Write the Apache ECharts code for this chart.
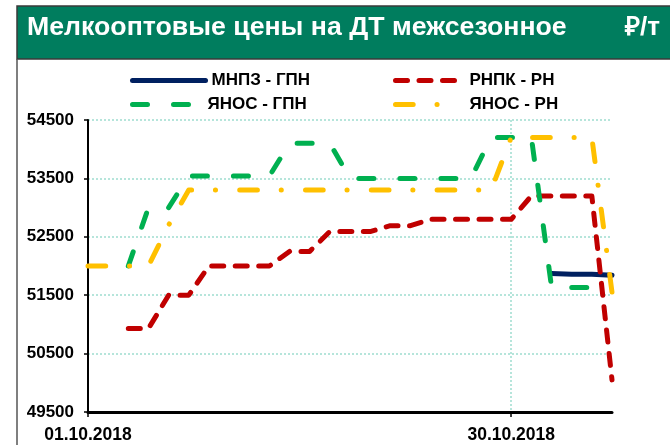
<!DOCTYPE html>
<html>
<head>
<meta charset="utf-8">
<script src="https://cdn.jsdelivr.net/npm/echarts@6/dist/echarts.min.js"></script>
<style>
  html, body { margin: 0; padding: 0; background: #fff; }
  #chart { width: 670px; height: 445px; }
</style>
</head>
<body>
<div id="chart"></div>
<script>
// trading days on the category axis
const dates = [
  '01.10.2018', '02.10.2018', '03.10.2018', '04.10.2018', '05.10.2018',
  '08.10.2018', '09.10.2018', '10.10.2018', '11.10.2018', '12.10.2018',
  '15.10.2018', '16.10.2018', '17.10.2018', '18.10.2018', '19.10.2018',
  '22.10.2018', '23.10.2018', '24.10.2018', '25.10.2018', '26.10.2018',
  '29.10.2018', '30.10.2018', '31.10.2018', '01.11.2018', '02.11.2018',
  '06.11.2018', '07.11.2018'
];
const xTickLabels = ['01.10.2018', '30.10.2018'];

const mnpzGpn = [
  null, null, null, null, null, null, null, null, null, null,
  null, null, null, null, null, null, null, null, null, null,
  null, null, null, 51870, 51860, 51860, 51840
];
const rnpkRn = [
  null, null, 50930, 50930, 51500, 51500, 52000, 52000, 52000, 52000,
  52250, 52250, 52590, 52590, 52590, 52690, 52690, 52800, 52800, 52800,
  52800, 52800, 53200, 53200, 53200, 53200, 50050
];
const yanosGpn = [
  null, null, 52000, 53000, 53000, 53540, 53540, 53540, 53540, 53540,
  54100, 54100, 54100, 53500, 53500, 53500, 53500, 53500, 53500, 53500,
  54200, 54200, 54200, 51640, 51630, 51630, 51620
];
const yanosRn = [
  52000, 52000, 52000, 52000, 52700, 53300, 53300, 53300, 53300, 53300,
  53300, 53300, 53300, 53300, 53300, 53300, 53300, 53300, 53300, 53300,
  53300, 54200, 54200, 54200, 54200, 54200, 51550
];

const FONT = 'Liberation Sans';
const showTick = (i) => xTickLabels.indexOf(dates[i]) !== -1;

const chart = echarts.init(document.getElementById('chart'));

const lineSeries = (name, data, color, dash, z) => ({
  name: name,
  type: 'line',
  data: data,
  symbol: 'none',
  connectNulls: false,
  z: z,
  lineStyle: { color: color, width: 5, type: dash, cap: 'round', join: 'round' },
  itemStyle: { color: color }
});

const legendAt = (name, left, top, width, textPad) => ({
  data: [name],
  left: left,
  top: top,
  itemWidth: width,
  itemHeight: 14,
  itemGap: 0,
  padding: 0,
  itemStyle: { opacity: 0 },
  lineStyle: { width: 5, cap: 'round' },
  textStyle: { fontFamily: FONT, fontWeight: 'bold', fontSize: 17, color: '#000', padding: [0, 0, 0, textPad] },
  selectedMode: false
});

const option = {
  backgroundColor: '#fff',
  animation: false,
  graphic: [
    {
      type: 'rect',
      shape: { x: 17, y: 6, width: 660, height: 53 },
      style: { fill: '#007D5E', stroke: '#3a3a3a', lineWidth: 1.5 },
      z: 0
    },
    {
      type: 'line',
      shape: { x1: 17, y1: 59, x2: 17, y2: 450 },
      style: { stroke: '#555', lineWidth: 1.5 },
      z: 0
    }
  ],
  title: [
    {
      text: 'Мелкооптовые цены на ДТ межсезонное',
      left: 27,
      top: 13,
      padding: 0,
      textStyle: { fontFamily: FONT, fontWeight: 'bold', fontSize: 26.7, lineHeight: 30, color: '#fff' }
    },
    {
      text: '₽/т',
      right: 10,
      top: 13,
      padding: 0,
      textStyle: { fontFamily: FONT, fontWeight: 'bold', fontSize: 26, lineHeight: 30, color: '#fff' }
    }
  ],
  legend: [
    legendAt('МНПЗ - ГПН', 130, 72, 73, 1),
    legendAt('РНПК - РН', 393, 72, 68, 1),
    legendAt('ЯНОС - ГПН', 130, 96, 69, 1),
    legendAt('ЯНОС - РН', 393, 96, 48, 21)
  ],
  grid: { left: 88, right: 58, top: 120, bottom: 33, containLabel: false },
  xAxis: {
    type: 'category',
    data: dates,
    boundaryGap: false,
    axisLine: { lineStyle: { color: '#000', width: 3 } },
    axisTick: { show: true, interval: (i) => showTick(i), length: 5, lineStyle: { color: '#000', width: 1.5 } },
    axisLabel: {
      interval: (i) => showTick(i),
      margin: 14,
      fontFamily: FONT,
      fontWeight: 'bold',
      fontSize: 17.5,
      color: '#000'
    },
    splitLine: {
      show: true,
      interval: (i) => i !== 0 && showTick(i),
      lineStyle: { color: '#9EDDD0', width: 1.5, type: [2, 2] }
    }
  },
  yAxis: {
    type: 'value',
    min: 49500,
    max: 54500,
    interval: 1000,
    axisLine: { show: true, lineStyle: { color: '#000', width: 2 } },
    axisTick: { show: true, length: 4, lineStyle: { color: '#000', width: 1.5 } },
    axisLabel: {
      margin: 14,
      formatter: (v) => String(v),
      fontFamily: FONT,
      fontWeight: 'bold',
      fontSize: 17,
      color: '#000'
    },
    splitLine: { show: true, lineStyle: { color: '#9EDDD0', width: 1.5, type: [2, 2] } }
  },
  series: [
    lineSeries('МНПЗ - ГПН', mnpzGpn, '#002060', 'solid', 2),
    lineSeries('РНПК - РН', rnpkRn, '#C00000', [12, 11.5], 3),
    lineSeries('ЯНОС - ГПН', yanosGpn, '#00B050', [15, 26], 4),
    lineSeries('ЯНОС - РН', yanosRn, '#FFC000', [17.7, 23.8, 0.1, 24.2], 5)
  ]
};

chart.setOption(option);
</script>
</body>
</html>
